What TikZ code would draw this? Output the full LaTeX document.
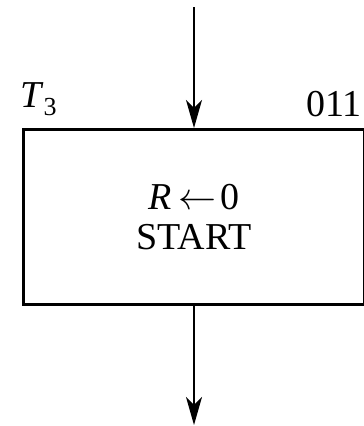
\RequirePackage{fix-cm}
\documentclass[tikz,border=0pt]{standalone}
\usepackage{fontspec}
\setmainfont{Liberation Serif}
\usetikzlibrary{arrows.meta}
\tikzset{
  big/.style={font=\fontsize{38}{38}\selectfont},
  boxst/.style={draw, line width=3pt, minimum width=341pt, minimum height=175pt, inner sep=0pt, align=center, big},
  arr/.style={line width=1.8pt, -{Stealth[length=28pt, width=16pt, inset=8pt]}},
  lbl/.style={big, inner sep=0pt, anchor=base west}
}
\begin{document}
\begin{tikzpicture}[x=1pt,y=1pt]
\useasboundingbox (0,0) rectangle (364,-426);
\clip (0,0) rectangle (364,-426);
\node[boxst] (box) at (194,-217) {\textit{R}\hspace{6pt}$\leftarrow$\hspace{4pt}0\\[2pt]START};
\coordinate (top) at (194,-7);
\coordinate (bot) at (194,-425);
\draw[arr] (top) -- (box.north);
\draw[arr] (box.south) -- (bot);
\node[lbl] (t3) at (20,-107) {\textit{T}\raisebox{-8pt}{\fontsize{26}{26}\selectfont 3}};
\node[lbl] (code) at (306,-116) {011};
\end{tikzpicture}
\end{document}
